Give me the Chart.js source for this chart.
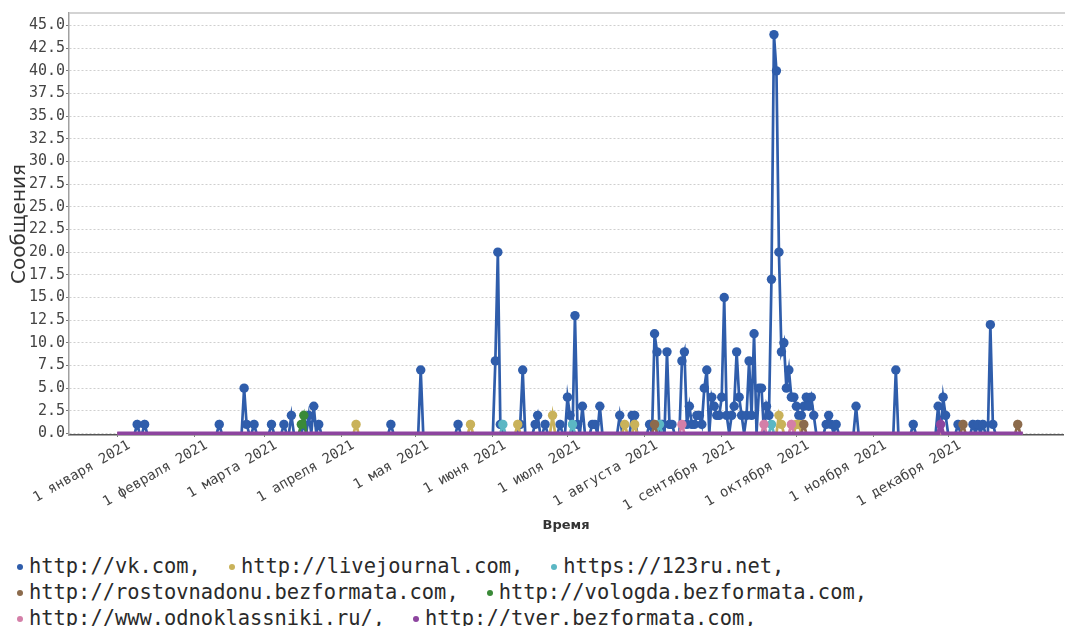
<!DOCTYPE html>
<html>
<head>
<meta charset="utf-8">
<script src="https://cdn.jsdelivr.net/npm/chart.js@4.4.0/dist/chart.umd.min.js"></script>
<style>
    body { margin: 0; background: #fff; overflow: hidden; }
    #wrap { position: relative; width: 1065px; height: 540px; }
    #legend {
        position: absolute; left: 17px; top: 553px; width: 1048px;
        font-family: 'DejaVu Sans Mono', monospace; font-size: 20.4px; line-height: 26px; color: #2a2a2a;
    }
    .item { display: inline-block; white-space: nowrap; margin-right: 28px; }
    .dot { display: inline-block; width: 6px; height: 6px; border-radius: 50%; margin-right: 6px; vertical-align: middle; }
</style>
</head>
<body>
<div id="wrap"><canvas id="myChart"></canvas></div>
<div id="legend"></div>
<script>
// номер дня считается от 1 января 2021 (= 0)
const vkDays = [8, 11, 41, 51, 52, 55, 62, 67, 70, 75, 77, 79, 81, 110, 122, 137,
    152, 153, 154, 162, 163, 168, 169, 172, 178, 181, 182, 184, 185, 187, 191, 192, 194,
    202, 207, 208, 214, 216, 217, 219, 221, 222, 223, 227, 228, 229, 230, 231, 232, 233,
    234, 235, 236, 237, 239, 240, 241, 242, 243, 244, 245, 247, 248, 249, 250, 251, 253,
    254, 255, 256, 258, 259, 261, 262, 263, 264, 265, 266, 267, 268, 269, 270, 271, 272,
    273, 274, 275, 276, 277, 278, 279, 280, 285, 286, 287, 289, 297, 313, 320, 330, 332,
    333, 338, 344, 346, 348, 351, 352];
const vkCounts = [1, 1, 1, 5, 1, 1, 1, 1, 2, 1, 2, 3, 1, 1, 7, 1,
    8, 20, 1, 1, 7, 1, 2, 1, 1, 4, 2, 13, 1, 3, 1, 1, 3,
    2, 2, 2, 1, 11, 9, 1, 9, 1, 1, 8, 9, 1, 3, 1, 1, 2,
    2, 1, 5, 7, 4, 3, 2, 2, 4, 15, 2, 2, 3, 9, 4, 2, 2,
    8, 2, 11, 5, 5, 3, 2, 17, 44, 40, 20, 9, 10, 5, 7, 4, 4,
    3, 2, 2, 3, 4, 3, 4, 2, 1, 2, 1, 1, 3, 7, 1, 3, 4,
    2, 1, 1, 1, 1, 12, 1];

const ljDays = [96, 142, 161, 175, 204, 208, 266, 267, 273, 274];
const ljCounts = [1, 1, 1, 2, 1, 1, 2, 1, 1, 1];

const ru123Days = [155, 183, 218, 263];
const ru123Counts = [1, 1, 1, 1];

const rostovDays = [216, 276, 340, 362];
const rostovCounts = [1, 1, 1, 1];

const vologdaDays = [74, 75];
const vologdaCounts = [1, 2];

const okDays = [227, 260, 271];
const okCounts = [1, 1, 1];

const tverDays = [331];
const tverCounts = [1];

const seriesNames = ['http://vk.com', 'http://livejournal.com', 'https://123ru.net',
    'http://rostovnadonu.bezformata.com', 'http://vologda.bezformata.com',
    'http://www.odnoklassniki.ru/', 'http://tver.bezformata.com'];
const seriesColors = ['#2f5dab', '#c9b25a', '#5bb7c4', '#8c6b4c', '#3a8a38', '#d47fa8', '#8d459f'];
const seriesDays = [vkDays, ljDays, ru123Days, rostovDays, vologdaDays, okDays, tverDays];
const seriesCounts = [vkCounts, ljCounts, ru123Counts, rostovCounts, vologdaCounts, okCounts, tverCounts];

const monthStarts = [0, 31, 59, 90, 120, 151, 181, 212, 243, 273, 304, 334];
const monthLabels = ['1 января 2021', '1 февраля 2021', '1 марта 2021', '1 апреля 2021',
    '1 мая 2021', '1 июня 2021', '1 июля 2021', '1 августа 2021', '1 сентября 2021',
    '1 октября 2021', '1 ноября 2021', '1 декабря 2021'];
const yTicks = [0, 2.5, 5, 7.5, 10, 12.5, 15, 17.5, 20, 22.5, 25, 27.5, 30, 32.5, 35,
    37.5, 40, 42.5, 45];

const DAYS_IN_YEAR = 365;

// дни без сообщений - нули
function toDaily(days, counts) {
    const byDay = {};
    days.forEach((d, i) => { byDay[d] = counts[i]; });
    const points = [];
    for (let d = 0; d < DAYS_IN_YEAR; d++) {
        points.push({ x: d, y: byDay[d] || 0 });
    }
    return points;
}

// верхняя рамка области графика
const frameLine = {
    id: 'frameLine',
    beforeDatasetsDraw(chart) {
        const { ctx, chartArea } = chart;
        ctx.save();
        ctx.strokeStyle = '#c4c4c4';
        ctx.lineWidth = 1.5;
        ctx.beginPath();
        ctx.moveTo(chartArea.left, chartArea.top);
        ctx.lineTo(chart.width, chartArea.top);
        ctx.stroke();
        ctx.restore();
    }
};

const mono = 'DejaVu Sans Mono';

const ctx = document.getElementById('myChart').getContext('2d');
new Chart(ctx, {
    type: 'line',
    data: {
        datasets: seriesNames.map((name, i) => ({
            label: name,
            data: toDaily(seriesDays[i], seriesCounts[i]),
            borderColor: seriesColors[i],
            backgroundColor: seriesColors[i],
            borderWidth: i === 6 ? 4 : 2.7,
            pointRadius: (c) => (c.raw && c.raw.y > 0 ? 4.7 : 0),
            pointHoverRadius: 0,
            pointBorderWidth: 0,
            order: seriesNames.length - i
        }))
    },
    options: {
        responsive: true,
        maintainAspectRatio: false,
        animation: false,
        layout: { padding: { top: 13, right: 2, left: 0, bottom: 0 } },
        scales: {
            x: {
                type: 'linear',
                min: -19.4,
                max: 380.2,
                afterBuildTicks: (axis) => { axis.ticks = monthStarts.map(v => ({ value: v })); },
                afterFit: (axis) => { axis.height = 105; },
                ticks: {
                    callback: (v, i) => monthLabels[i],
                    autoSkip: false,
                    minRotation: 30,
                    maxRotation: 30,
                    labelOffset: 12,
                    padding: 0,
                    color: '#444',
                    font: { family: mono, size: 14 }
                },
                grid: { drawOnChartArea: false, tickLength: 2, tickColor: '#777' },
                border: { color: '#555', width: 1.5 },
                title: {
                    display: true,
                    text: 'Время',
                    color: '#333',
                    font: { family: 'DejaVu Sans', size: 13, weight: 'bold' },
                    padding: { top: 0, bottom: 7 }
                }
            },
            y: {
                min: -0.17,
                max: 46.38,
                afterBuildTicks: (axis) => { axis.ticks = yTicks.map(v => ({ value: v })); },
                afterFit: (axis) => { axis.width = 69; },
                ticks: {
                    callback: (v) => v.toFixed(1),
                    padding: 1,
                    color: '#444',
                    font: { family: mono, size: 15 }
                },
                grid: { color: '#cfcfcf', tickColor: '#777', tickLength: 3, lineWidth: 1 },
                border: { color: '#a0a0a0', width: 1.5, dash: [2, 2] },
                title: {
                    display: true,
                    text: 'Сообщения',
                    color: '#333',
                    font: { family: 'DejaVu Sans', size: 20 },
                    padding: { top: 8, bottom: 0 }
                }
            }
        },
        plugins: {
            legend: { display: false },
            tooltip: { enabled: false }
        }
    },
    plugins: [frameLine]
});

// легенда снизу, как в оригинале
const legend = document.getElementById('legend');
seriesNames.forEach((name, i) => {
    const item = document.createElement('span');
    item.className = 'item';
    const dot = document.createElement('span');
    dot.className = 'dot';
    dot.style.background = seriesColors[i];
    item.appendChild(dot);
    item.appendChild(document.createTextNode(name + ','));
    legend.appendChild(item);
});
</script>
</body>
</html>
